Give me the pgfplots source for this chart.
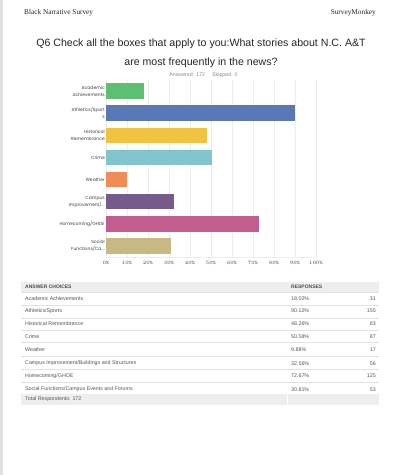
\documentclass[border=0pt]{standalone}
\usepackage{fontspec}
\setmainfont{Liberation Sans}
\newfontfamily\seriffont{Liberation Serif}
\newfontfamily\chartfont{Poppins}
\usepackage{pgfplots}
\pgfplotsset{compat=1.18}
\definecolor{cA}{HTML}{5DBF74}
\definecolor{cB}{HTML}{5A78B6}
\definecolor{cC}{HTML}{F2C241}
\definecolor{cD}{HTML}{7FC5CB}
\definecolor{cE}{HTML}{F08C55}
\definecolor{cF}{HTML}{765A8C}
\definecolor{cG}{HTML}{C45D8F}
\definecolor{cH}{HTML}{C8B882}
\definecolor{txt}{HTML}{555555}
\definecolor{lbl}{HTML}{3F3F3F}
\definecolor{hdrbg}{HTML}{EEEEEE}
\definecolor{sep}{HTML}{E2E2E2}
\definecolor{grid}{HTML}{EDEDED}
\newcommand{\dd}{.\kern0.05em.\kern0.05em.}
\begin{document}
\begin{tikzpicture}
% page
\fill[white] (0pt,0pt) rectangle (397pt,-475pt);
\fill[gray!25] (0pt,0pt) rectangle (2.5pt,-475pt);
% header
\node[anchor=west, font=\seriffont\fontsize{7.3}{8}\selectfont, text=black!85, inner sep=0pt] at (24pt,-13pt) {Black Narrative Survey};
\node[anchor=east, font=\seriffont\fontsize{7.3}{8}\selectfont, text=black!85, inner sep=0pt] at (376pt,-13pt) {SurveyMonkey};
% title
\node[anchor=base, font=\fontsize{10.6}{12}\selectfont, text=black!85, inner sep=0pt] at (201pt,-46.5pt) {Q6 Check all the boxes that apply to you:What stories about N.C. A\&T};
\node[anchor=base, font=\fontsize{10.6}{12}\selectfont, text=black!85, inner sep=0pt] at (201pt,-65.5pt) {are most frequently in the news?};
\node[font=\fontsize{5.3}{6}\selectfont, text=black!45, inner sep=0pt] at (203.5pt,-75.5pt) {Answered: 172\hspace{7pt}Skipped: 0};

\begin{axis}[
  at={(106pt,-80pt)}, anchor=north west,
  scale only axis, width=210pt, height=177pt,
  xmin=0, xmax=100, ymin=-0.5, ymax=7.5, y dir=reverse,
  xbar, bar width=15.5pt, bar shift=0pt,
  xtick={0,10,20,30,40,50,60,70,80,90,100},
  xticklabel={\pgfmathprintnumber{\tick}\%},
  ytick={0,1,2,3,4,5,6,7},
  yticklabels={{Academic\\Achievements},{Athletics/Sport\\s},{Historical\\Remembrance},{Crime},{Weather},{Campus\\Improvement/\dd},{Homecoming/GHOE},{Social\\Functions/Ca\dd}},
  yticklabel style={align=right, font=\chartfont\fontsize{4.5}{7}\selectfont, text=lbl, inner sep=1pt},
  xticklabel style={font=\chartfont\fontsize{4.5}{5}\selectfont, text=lbl, inner sep=1pt, yshift=-3.5pt},
  xmajorgrids, major grid style={draw=grid, line width=0.4pt},
  axis x line*=bottom, axis y line*=left,
  x axis line style={draw=grid, line width=0.4pt, -},
  y axis line style={draw=none},
  tick style={draw=none}, major tick length=0pt,
  clip=false,
]
\addplot[fill=cA, draw=none] coordinates {(18.02,0)};
\addplot[fill=cB, draw=none] coordinates {(90.12,1)};
\addplot[fill=cC, draw=none] coordinates {(48.26,2)};
\addplot[fill=cD, draw=none] coordinates {(50.58,3)};
\addplot[fill=cE, draw=none] coordinates {(9.88,4)};
\addplot[fill=cF, draw=none] coordinates {(32.56,5)};
\addplot[fill=cG, draw=none] coordinates {(72.67,6)};
\addplot[fill=cH, draw=none] coordinates {(30.81,7)};
\end{axis}

% table
\fill[hdrbg] (21pt,-282pt) rectangle (379pt,-291.5pt);
\fill[hdrbg] (21pt,-394pt) rectangle (379pt,-404.5pt);
\fill[white] (286.5pt,-394pt) rectangle (287.5pt,-404.5pt);
\foreach \y in {292,305,317.7,330,342.5,355.7,368.7,381.7}{
  \draw[sep, line width=0.4pt] (21pt,-\y pt) -- (379pt,-\y pt);
}
\tikzset{tt/.style={font=\fontsize{5.3}{6}\selectfont, text=txt, inner sep=0pt}}
\node[tt, anchor=west, font=\bfseries\fontsize{5}{6}\selectfont, text=black!70] at (25pt,-286.5pt) {ANSWER CHOICES};
\node[tt, anchor=west, font=\bfseries\fontsize{5}{6}\selectfont, text=black!70] at (291pt,-286.5pt) {RESPONSES};
\foreach \yy/\name/\pct/\cnt in {
  298.3/Academic Achievements/18.02\%/31,
  310.7/Athletics\slash Sports/90.12\%/155,
  324/Historical Remembrance/48.26\%/83,
  337/Crime/50.58\%/87,
  350/Weather/9.88\%/17,
  363.3/Campus Improvement\slash Buildings and Structures/32.56\%/56,
  376/Homecoming\slash GHOE/72.67\%/125,
  389.3/Social Functions\slash Campus Events and Forums/30.81\%/53}{
  \node[tt, anchor=west] at (25pt,-\yy pt) {\name};
  \node[tt, anchor=west] at (291pt,-\yy pt) {\pct};
  \node[tt, anchor=east] at (376pt,-\yy pt) {\cnt};
}
\node[tt, anchor=west] at (25pt,-399.5pt) {Total Respondents: 172};
\end{tikzpicture}
\end{document}
